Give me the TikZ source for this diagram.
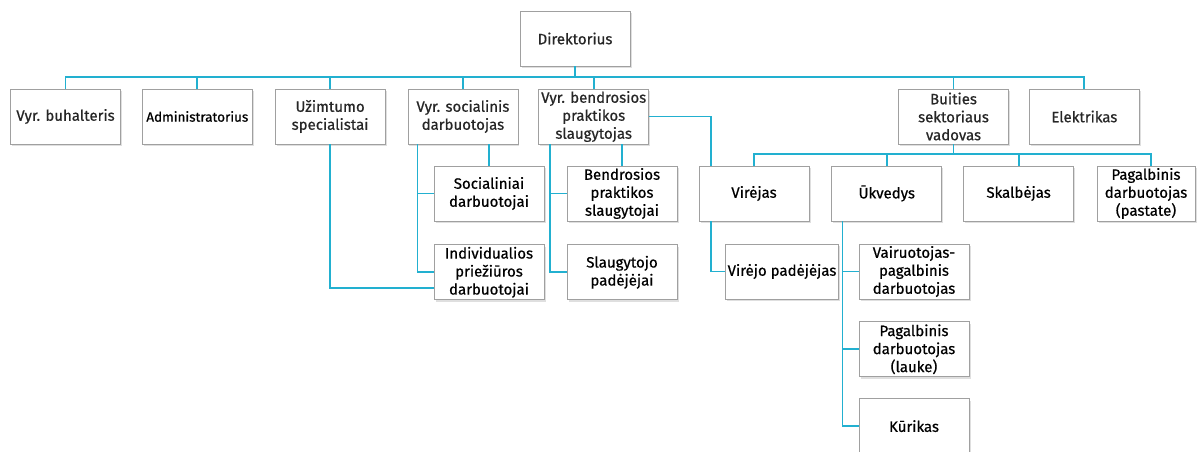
\documentclass[tikz,border=0pt]{standalone}
\usepackage{fontspec}
\setmainfont{Fira Sans}[FakeBold=0.6]
\usetikzlibrary{positioning, shadows}
\definecolor{linkblue}{HTML}{22B0D0}
\definecolor{boxgray}{HTML}{A0A0A0}

\begin{document}
\begin{tikzpicture}[x=1pt,y=-1pt,node distance=23pt]
    \tikzstyle{unit}=[draw=boxgray,fill=white,line width=0.8pt,minimum width=110pt,minimum height=55pt,
        inner xsep=2pt,inner ysep=0pt,align=center,text=black!85,font=\fontsize{15}{18}\selectfont,
        drop shadow={shadow xshift=1.5pt,shadow yshift=-2pt,opacity=0.25}]
    \tikzstyle{link}=[draw=linkblue,line width=1.8pt]
    \useasboundingbox (0,0) rectangle (1197,452);

    \node[unit]                 (dir) at (575,38.5)     {Direktorius};
    \node[unit]                 (buh) at (65.5,116.5)   {Vyr. buhalteris};
    \node[unit,text=black,font=\fontsize{13.5}{16}\selectfont]
                                (adm) [right=21pt of buh] {Administratorius};
    \node[unit]                 (uzi) [right=22pt of adm] {Užimtumo\\specialistai};
    \node[unit]                 (soc) [right=22pt of uzi] {Vyr. socialinis\\darbuotojas};
    \node[unit]                 (ben) [right=20pt of soc] {Vyr. bendrosios\\praktikos\\slaugytojas};
    \node[unit]                 (bui) [right=249pt of ben] {Buities\\sektoriaus\\vadovas};
    \node[unit]                 (ele) [right=20pt of bui] {Elektrikas};

    \node[unit,text=black]      (socd) at (489,193.5)   {Socialiniai\\darbuotojai};
    \node[unit,text=black]      (ind) [below=of socd]   {Individualios\\priežiūros\\darbuotojai};
    \node[unit,text=black]      (bps) at (622,193.5)    {Bendrosios\\praktikos\\slaugytojai};
    \node[unit,text=black]      (slp) [below=of bps]    {Slaugytojo\\padėjėjai};
    \node[unit,text=black]      (vir) at (754,193.5)    {Virėjas};
    \node[unit,text=black]      (ukv) [right=22pt of vir] {Ūkvedys};
    \node[unit,text=black]      (ska) [right=21pt of ukv] {Skalbėjas};
    \node[unit,text=black,minimum width=98pt]
                                (pgp) at (1146,193.5)   {Pagalbinis\\darbuotojas\\(pastate)};
    \node[unit,text=black]      (vpd) at (782,271.5)    {Virėjo padėjėjas};
    \node[unit,text=black]      (vai) at (914,271.5)    {Vairuotojas-\\pagalbinis\\darbuotojas};
    \node[unit,text=black]      (pgl) [below=22pt of vai] {Pagalbinis\\darbuotojas\\(lauke)};
    \node[unit,text=black]      (kur) [below=21pt of pgl] {Kūrikas};

    \coordinate (bus) at (0,77);
    \coordinate (subbus) at (0,154);
    \foreach \n in {buh,adm,uzi,soc,ben,bui,ele}
        \draw[link] (dir.south) -- (dir.south |- bus) -| (\n.north);
    \foreach \n in {vir,ukv,ska}
        \draw[link] (bui.south) -- (bui.south |- subbus) -| (\n.north);
    \draw[link] (bui.south |- subbus) -| ([xshift=5pt]pgp.north);

    \draw[link] (uzi.south) |- ([yshift=-16pt]ind.west);
    \draw[link] ([xshift=10pt]soc.south west) |- (socd.west);
    \draw[link] ([xshift=10pt]soc.south west) |- (ind.west);
    \draw[link] (soc.south -| socd.north) -- (socd.north);
    \draw[link] ([xshift=12pt]ben.south west) |- (bps.west);
    \draw[link] ([xshift=12pt]ben.south west) |- (slp.west);
    \draw[link] (ben.south -| bps.north) -- (bps.north);
    \draw[link] (ben.east) -| ([xshift=12pt]vir.north west);
    \draw[link] ([xshift=12pt]vir.south west) |- (vpd.west);
    \foreach \n in {vai,pgl,kur}
        \draw[link] ([xshift=11pt]ukv.south west) |- (\n.west);
\end{tikzpicture}
\end{document}
